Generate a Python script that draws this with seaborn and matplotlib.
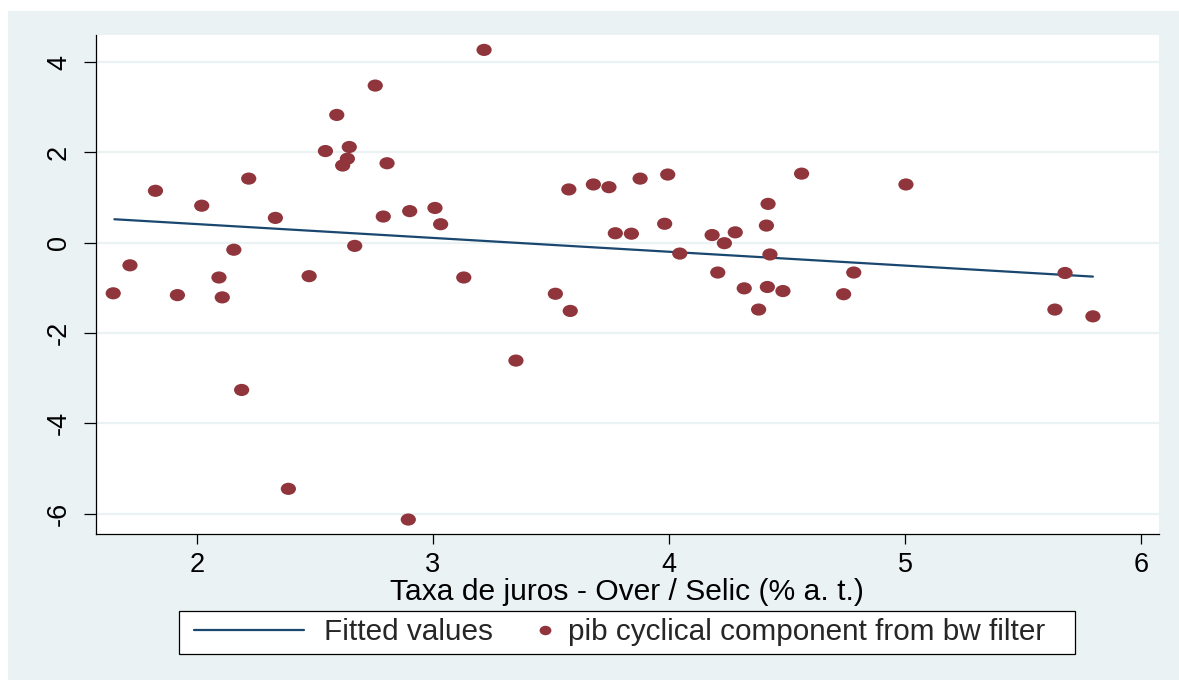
import numpy as np
import pandas as pd
import matplotlib
matplotlib.use("Agg")
import matplotlib.pyplot as plt
import seaborn as sns
from matplotlib.path import Path
from matplotlib.transforms import Affine2D
from matplotlib.lines import Line2D
from matplotlib.patches import Rectangle
from matplotlib.legend_handler import HandlerBase

# Interest rate (x) and cyclical component of GDP (y)
selic = [3.217, 2.756, 2.593, 2.646, 2.545, 2.638, 2.618, 2.806, 2.220, 1.825,
         2.021, 2.333, 2.790, 2.902, 3.009, 3.033, 2.669, 2.157, 1.717, 1.646,
         1.918, 2.094, 2.108, 2.476, 3.131, 2.190, 2.388, 2.896, 3.576, 3.680,
         3.746, 3.878, 3.995, 4.562, 4.420, 3.982, 4.413, 3.773, 3.841, 4.183,
         4.281, 4.235, 4.046, 4.428, 4.207, 4.783, 3.519, 3.582, 4.319, 4.417,
         4.483, 4.380, 4.740, 3.352, 5.004, 5.678, 5.635, 5.796]
pib_cycle = [4.27, 3.48, 2.83, 2.12, 2.03, 1.86, 1.71, 1.76, 1.42, 1.15,
             0.82, 0.55, 0.58, 0.70, 0.77, 0.41, -0.07, -0.155, -0.50, -1.12,
             -1.16, -0.77, -1.21, -0.74, -0.77, -3.26, -5.45, -6.13, 1.18, 1.29,
             1.23, 1.42, 1.51, 1.53, 0.86, 0.42, 0.38, 0.21, 0.20, 0.17,
             0.23, -0.01, -0.24, -0.26, -0.66, -0.66, -1.13, -1.51, -1.01, -0.98,
             -1.07, -1.48, -1.14, -2.61, 1.29, -0.67, -1.48, -1.63]

# Fitted values of the linear fit at the ends of the sample range
fit_x = [1.651, 5.796]
fit_y = [0.52, -0.75]

x_ticks = [2, 3, 4, 5, 6]
y_ticks = [-6, -4, -2, 0, 2, 4]
x_title = "Taxa de juros - Over / Selic (% a. t.)"
fit_label = "Fitted values"
dot_label = "pib cyclical component from bw filter"

NAVY = "#1A476F"
MAROON = "#90353B"
BLUISH = "#EAF2F3"

df = pd.DataFrame({"selic": selic, "pib": pib_cycle})
fit_df = pd.DataFrame({"selic": fit_x, "fitted": fit_y})

sns.set_style("white")
plt.rcParams["font.family"] = ["Liberation Sans", "DejaVu Sans"]
plt.rcParams["axes.unicode_minus"] = False

W, H = 1179, 680
fig = plt.figure(figsize=(W / 100, H / 100), dpi=100)
fig.patch.set_facecolor("white")
fig.add_artist(Rectangle((8 / W, 0), 1 - 8 / W, 1 - 11 / H,
                         transform=fig.transFigure, facecolor=BLUISH,
                         edgecolor="none", zorder=0))

ax = fig.add_axes([95.5 / W, 1 - 534 / H, (1159 - 95.5) / W, (534 - 35) / H])
ax.set_facecolor("white")

# elliptical marker, slightly wider than tall
ell = Path(Affine2D().scale(1.25, 1.0).transform(Path.unit_circle().vertices),
           Path.unit_circle().codes)

sns.lineplot(data=fit_df, x="selic", y="fitted", ax=ax, color=NAVY, lw=1.6,
             zorder=3, legend=False)
sns.scatterplot(data=df, x="selic", y="pib", ax=ax, marker=ell, s=120,
                color=MAROON, edgecolor="none", linewidth=0, zorder=4)

ax.set_xlim(1.571, 6.076)
ax.set_ylim(-6.45, 4.60)
ax.set_xticks(x_ticks)
ax.set_yticks(y_ticks)
ax.set_xticklabels([str(v) for v in x_ticks])
ax.set_yticklabels([str(v) for v in y_ticks], rotation=90, va="center")

for y in y_ticks:
    ax.axhline(y, color=BLUISH, lw=1.6, zorder=1)

for side in ["top", "right"]:
    ax.spines[side].set_visible(False)
for side in ["left", "bottom"]:
    ax.spines[side].set_color("black")
    ax.spines[side].set_linewidth(0.9)

ax.tick_params(axis="x", direction="out", length=7, width=0.9, color="black",
               labelsize=19.5, pad=6, labelcolor="black", bottom=True)
ax.tick_params(axis="y", direction="out", length=9, width=0.9, color="black",
               labelsize=19.5, pad=8, labelcolor="black", left=True)

ax.set_xlabel(x_title, fontsize=21.6, labelpad=0, color="black")
ax.set_ylabel("")


class RightDot(HandlerBase):
    def create_artists(self, legend, orig_handle, xdescent, ydescent,
                       width, height, fontsize, trans):
        x = -xdescent + width - 0.15 * fontsize
        y = -ydescent + height / 2
        m = Line2D([x], [y], linestyle="none", marker=ell, markersize=8.5,
                   color=MAROON, markeredgewidth=0)
        m.set_transform(trans)
        return [m]


def wide_square(x0, y0, width, height, mutation_size):
    # square frame with extra room on the left and right
    left, right = 8, 22
    xa, xb = x0 - left, x0 + width + right
    ya, yb = y0, y0 + height
    return Path([(xa, ya), (xb, ya), (xb, yb), (xa, yb), (xa, ya)],
                closed=True)


line_h = Line2D([], [], color=NAVY, lw=1.6)
dot_h = Line2D([], [], linestyle="none", marker="o", color=MAROON)
leg = fig.legend([line_h, dot_h], [fit_label, dot_label], loc="center",
                 bbox_to_anchor=(620 / W, 1 - 632.5 / H), ncol=2,
                 fontsize=21.4, frameon=True, fancybox=False, framealpha=1,
                 edgecolor="black", facecolor="white", handlelength=3.7,
                 handletextpad=0.65, columnspacing=-1.8, borderpad=0.24,
                 handler_map={dot_h: RightDot()})
leg.get_frame().set_boxstyle(wide_square)
leg.get_frame().set_linewidth(0.9)

fig.savefig("out.png", dpi=100)
